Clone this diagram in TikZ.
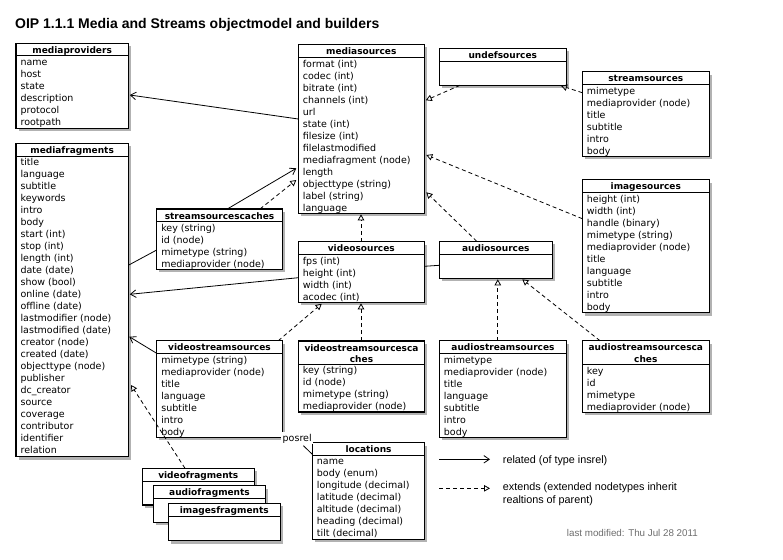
\documentclass[tikz,border=0pt]{standalone}
\usepackage{fontspec}
\setmainfont{DejaVu Sans}
\newfontfamily\helv{Liberation Sans}
\usetikzlibrary{arrows.meta,shadows}
\definecolor{lmgray}{RGB}{110,110,110}
\tikzset{
 classbox/.style={draw, line width=1.2pt, fill=white, anchor=north west, inner sep=0pt, outer sep=0pt,
   drop shadow={shadow xshift=2.5pt, shadow yshift=-3pt, fill=black, opacity=0.3}},
 hdrtext/.style={font=\bfseries\fontsize{9}{11}\selectfont, anchor=base, inner sep=0pt},
 rowtext/.style={font=\fontsize{9.5}{12}\selectfont, anchor=base west, inner sep=0pt},
 rel/.style={line width=0.8pt, -{Straight Barb[length=5.5pt,width=7.5pt]}},
 ext/.style={line width=0.8pt, dash pattern=on 4pt off 3pt, -{Triangle[open,length=6pt,width=6.5pt]}},
 plainline/.style={line width=0.8pt},
 legtext/.style={font=\helv\fontsize{10.8}{13}\selectfont, anchor=base west, inner sep=0pt},
}
\newcommand{\umlclass}[7]{%
 \node[classbox, minimum width=#4pt, minimum height=#5pt] (#1) at (#2pt,-#3pt) {};
 \draw[line width=1pt] ([yshift=-#6pt]#1.north west) -- ([yshift=-#6pt]#1.north east);
 \node[hdrtext] (#1-h) at ([yshift=-10pt]#1.north) {#7};
}
\newcommand{\umlrows}[3]{%
 \foreach \t [count=\i] in {#3} {
  \node[rowtext] (#1-r\i) at ([xshift=4.4pt, yshift={-(#2+9.8+12*(\i-1))*1pt}]#1.north west) {\t};
 }
}
\begin{document}
\begin{tikzpicture}
\fill[white] (0,0) rectangle (783pt,-559pt);
\useasboundingbox (0,0) rectangle (783pt,-559pt);

\node[font=\helv\bfseries\fontsize{14}{16}\selectfont, anchor=base west, inner sep=0pt] (title) at (15pt,-28.5pt) {OIP 1.1.1 Media and Streams objectmodel and builders};

% classes
\umlclass{mediaproviders}{16}{43.3}{112.3}{85}{12.7}{mediaproviders}
\umlrows{mediaproviders}{12.7}{name,host,state,description,protocol,rootpath}

\umlclass{mediafragments}{16}{143.3}{112.3}{313.3}{12.7}{mediafragments}
\umlrows{mediafragments}{12.7}{title,language,subtitle,keywords,intro,body,start (int),stop (int),length (int),date (date),show (bool),online (date),offline (date),lastmodifier (node),lastmodified (date),creator (node),created (date),objecttype (node),publisher,dc\_creator,source,coverage,contributor,identifier,relation}

\umlclass{mediasources}{298.3}{44.5}{126}{168.8}{13}{mediasources}
\umlrows{mediasources}{13}{format (int),codec (int),bitrate (int),channels (int),url,state (int),filesize (int),filelastmodified,mediafragment (node),length,objecttype (string),label (string),language}

\umlclass{undefsources}{439.3}{48.3}{127}{37}{13.3}{undefsources}

\umlclass{streamsources}{582.3}{71.7}{127}{84.6}{12.7}{streamsources}
\umlrows{streamsources}{12.7}{mimetype,mediaprovider (node),title,subtitle,intro,body}

\umlclass{imagesources}{582.3}{179.7}{127}{133}{13}{imagesources}
\umlrows{imagesources}{13}{height (int),width (int),handle (binary),mimetype (string),mediaprovider (node),title,language,subtitle,intro,body}

\umlclass{videosources}{298.3}{241.7}{126}{60.6}{12.5}{videosources}
\umlrows{videosources}{12.5}{fps (int),height (int),width (int),acodec (int)}

\umlclass{audiosources}{439.3}{241.3}{113}{37}{13}{audiosources}

\umlclass{streamsourcescaches}{156.7}{209}{125.6}{60.3}{12.3}{streamsourcescaches}
\umlrows{streamsourcescaches}{12.3}{key (string),id (node),mimetype (string),mediaprovider (node)}

\umlclass{videostreamsources}{156.7}{340.7}{125.6}{96.6}{12.6}{videostreamsources}
\umlrows{videostreamsources}{12.6}{mimetype (string),mediaprovider (node),title,language,subtitle,intro,body}

\umlclass{videostreamsourcescaches}{298.3}{341}{126.4}{71}{23}{videostreamsourcesca}
\node[hdrtext] (videostreamsourcescaches-h2) at ([yshift=-21.3pt]videostreamsourcescaches.north) {ches};
\umlrows{videostreamsourcescaches}{23}{key (string),id (node),mimetype (string),mediaprovider (node)}

\umlclass{audiostreamsources}{439.3}{340.7}{127.4}{96.6}{12.6}{audiostreamsources}
\umlrows{audiostreamsources}{12.6}{mimetype,mediaprovider (node),title,language,subtitle,intro,body}

\umlclass{audiostreamsourcescaches}{582.3}{340.7}{127}{71.6}{23.6}{audiostreamsourcesca}
\node[hdrtext] (audiostreamsourcescaches-h2) at ([yshift=-21.5pt]audiostreamsourcescaches.north) {ches};
\umlrows{audiostreamsourcescaches}{23.6}{key,id,mimetype,mediaprovider (node)}

\umlclass{locations}{312.3}{442.7}{112.4}{96.6}{12.3}{locations}
\umlrows{locations}{12.3}{name,body (enum),longitude (decimal),latitude (decimal),altitude (decimal),heading (decimal),tilt (decimal)}

\umlclass{videofragments}{142.3}{468.3}{112}{36.7}{12.7}{videofragments}
\umlclass{audiofragments}{153.3}{485.7}{112.4}{36.6}{12.6}{audiofragments}
\umlclass{imagesfragments}{168.3}{503.3}{112}{37.4}{13.4}{imagesfragments}

% connectors
\draw[rel] ([yshift=-74.5pt]mediasources.north west) -- ([xshift=1.5pt,yshift=-51.7pt]mediaproviders.north east);
\draw[rel] ([xshift=70.6pt]streamsourcescaches.north west) -- ([xshift=-2pt,yshift=-123.8pt]mediasources.north west);
\draw[ext] ([xshift=103.3pt]streamsourcescaches.north west) -- ([xshift=-2pt,yshift=-135.5pt]mediasources.north west);
\draw[plainline] ([yshift=-41pt]streamsourcescaches.north west) -- ([yshift=-122pt]mediafragments.north east);
\draw[rel] ([yshift=-36pt]videosources.north west) -- ([xshift=1.5pt,yshift=-151pt]mediafragments.north east);
\draw[plainline] ([yshift=-24pt]audiosources.north west) -- ([yshift=-24.6pt]videosources.north east);
\draw[ext] ([xshift=62.7pt]videosources.north west) -- ([xshift=62.7pt,yshift=-1pt]mediasources.south west);
\draw[ext] ([xshift=37.4pt]audiosources.north west) -- ([xshift=2pt,yshift=-147.8pt]mediasources.north east);
\draw[ext] ([yshift=-39pt]imagesources.north west) -- ([xshift=2pt,yshift=-110.5pt]mediasources.north east);
\draw[ext] ([xshift=20.7pt]undefsources.south west) -- ([xshift=1.5pt,yshift=-55.8pt]mediasources.north east);
\draw[ext] ([yshift=-21pt]streamsources.north west) -- ([xshift=-5.3pt,yshift=-0.5pt]undefsources.south east);
\draw[ext] ([xshift=121.6pt]videostreamsources.north west) -- ([xshift=23.4pt,yshift=-1.5pt]videosources.south west);
\draw[ext] ([xshift=62.7pt]videostreamsourcescaches.north west) -- ([xshift=62.7pt,yshift=-1pt]videosources.south west);
\draw[ext] ([xshift=58.5pt]audiostreamsources.north west) -- ([xshift=58.5pt,yshift=-1pt]audiosources.south west);
\draw[ext] ([xshift=17.7pt]audiostreamsourcescaches.north west) -- ([xshift=83pt,yshift=-1pt]audiosources.south west);
\draw[rel] ([yshift=-12.6pt]videostreamsources.north west) -- ([xshift=1pt,yshift=-193.4pt]mediafragments.north east);
\draw[ext] ([xshift=42.7pt]videofragments.north west) -- ([xshift=2.7pt,yshift=-241.7pt]mediafragments.north east);

% posrel
\node[font=\fontsize{9.5}{12}\selectfont, fill=white, inner sep=1.5pt, anchor=base west] (posrel) at (281pt,-441pt) {posrel};
\draw[plainline] ([xshift=-10pt,yshift=-1pt]posrel.south east) -- ([yshift=-11.6pt]locations.north west);

% legend
\coordinate (l1a) at (439.3pt,-459.3pt);
\coordinate (l1b) at (490pt,-459.3pt);
\draw[rel] (l1a) -- (l1b);
\node[legtext] (legrel) at (502.7pt,-463.5pt) {related (of type insrel)};
\coordinate (l2a) at (439.3pt,-488.3pt);
\coordinate (l2b) at (490pt,-488.3pt);
\draw[ext] (l2a) -- (l2b);
\node[legtext] (legext1) at (502.7pt,-490pt) {extends (extended nodetypes inherit};
\node[legtext] (legext2) at (502.7pt,-503pt) {realtions of parent)};
\node[font=\helv\fontsize{9.8}{12}\selectfont, text=lmgray, anchor=base west, inner sep=0pt] (lastmod) at (566.7pt,-536.7pt) {last modified: Thu Jul 28 2011};
\end{tikzpicture}
\end{document}
